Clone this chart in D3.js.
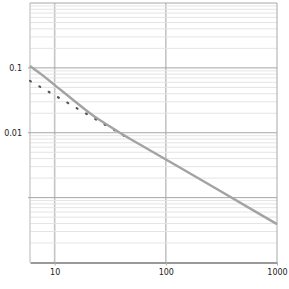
<!DOCTYPE html>
<html>
<head>
<meta charset="utf-8">
<script src="https://cdn.jsdelivr.net/npm/d3@7"></script>
<style>
  body { margin: 0; background: #fff; }
  svg { display: block; font-family: 'DejaVu Sans', sans-serif; }
</style>
</head>
<body>
<script>
// solid curve
const curveX = [6, 8, 10, 13, 17, 20, 25, 40, 60, 100, 1000];
const curveY = [0.107, 0.075, 0.054, 0.038, 0.026, 0.021, 0.0158, 0.0096, 0.0064, 0.0039, 0.00039];
// dotted asymptote (hidden under the solid curve past ~45)
const asymX = [6, 45];
const asymY = [0.063, 0.0084];
// tick labels
const xTicks = [10, 100, 1000];
const yTicks = [0.1, 0.01];
const xDomain = [6, 1000];
const yDomain = [0.0001, 1];

const width = 289, height = 289;
const margin = { top: 3, right: 12, bottom: 26.5, left: 30 };

const svg = d3.select('body').append('svg')
  .attr('width', width).attr('height', height);

const x = d3.scaleLog().domain(xDomain).range([margin.left, width - margin.right]);
const y = d3.scaleLog().domain(yDomain).range([height - margin.bottom, margin.top]);

const x0 = x.range()[0], x1 = x.range()[1];
const y0 = y.range()[0], y1 = y.range()[1];

// major vertical grid
svg.append('g').selectAll('line')
  .data(xTicks.filter(d => d < xDomain[1]))
  .join('line')
  .attr('x1', d => x(d)).attr('x2', d => x(d))
  .attr('y1', y1).attr('y2', y0)
  .attr('stroke', '#c4c4c4').attr('stroke-width', 1.6);

// minor horizontal grid
const decades = [1, 0.1, 0.01, 0.001, 0.0001];
svg.append('g').selectAll('line')
  .data(y.ticks().filter(d => !decades.some(p => Math.abs(d / p - 1) < 1e-6)))
  .join('line')
  .attr('x1', x0).attr('x2', x1)
  .attr('y1', d => y(d)).attr('y2', d => y(d))
  .attr('stroke', '#e4e4e4').attr('stroke-width', 1);

// left border
svg.append('line')
  .attr('x1', x0).attr('x2', x0).attr('y1', y1).attr('y2', y0)
  .attr('stroke', '#cfcfcf').attr('stroke-width', 1.5);

// major horizontal grid
svg.append('g').selectAll('line')
  .data([0.1, 0.01, 0.001])
  .join('line')
  .attr('x1', x0 - 2).attr('x2', x1)
  .attr('y1', d => y(d)).attr('y2', d => y(d))
  .attr('stroke', '#a6a6a6').attr('stroke-width', 1);

// top and right border
svg.append('path')
  .attr('d', `M${x0},${y1}H${x1}V${y0}`)
  .attr('fill', 'none').attr('stroke', '#a8a8a8').attr('stroke-width', 1);

// curves
const line = d3.line().x(d => x(d[0])).y(d => y(d[1]));

svg.append('path')
  .datum(d3.zip(asymX, asymY))
  .attr('d', line)
  .attr('fill', 'none')
  .attr('stroke', '#555')
  .attr('stroke-width', 2.2)
  .attr('stroke-linecap', 'round')
  .attr('stroke-dasharray', '1 9.8');

svg.append('path')
  .datum(d3.zip(curveX, curveY))
  .attr('d', d3.line().x(d => x(d[0])).y(d => y(d[1])).curve(d3.curveBasis))
  .attr('fill', 'none')
  .attr('stroke', '#a3a3a3')
  .attr('stroke-width', 2.4);

// x axis
const xAxis = d3.axisBottom(x).tickValues(xTicks).tickFormat(d3.format('d'))
  .tickSize(3).tickSizeOuter(0).tickPadding(4);
const gx = svg.append('g')
  .attr('transform', `translate(0,${y0})`)
  .call(xAxis);
gx.select('.domain').attr('stroke', '#9a9a9a').attr('stroke-width', 2);
gx.selectAll('.tick line').attr('stroke', '#b0b0b0');
gx.selectAll('.tick text').attr('fill', '#222').style('font-size', '8px')
  .style('font-family', 'DejaVu Sans');

// y axis labels
const yAxis = d3.axisLeft(y).tickValues(yTicks).tickFormat(d => String(d))
  .tickSize(0).tickPadding(8);
const gy = svg.append('g')
  .attr('transform', `translate(${x0},0)`)
  .call(yAxis);
gy.select('.domain').remove();
gy.selectAll('.tick text').attr('fill', '#222').style('font-size', '8px')
  .style('font-family', 'DejaVu Sans');
</script>
</body>
</html>
